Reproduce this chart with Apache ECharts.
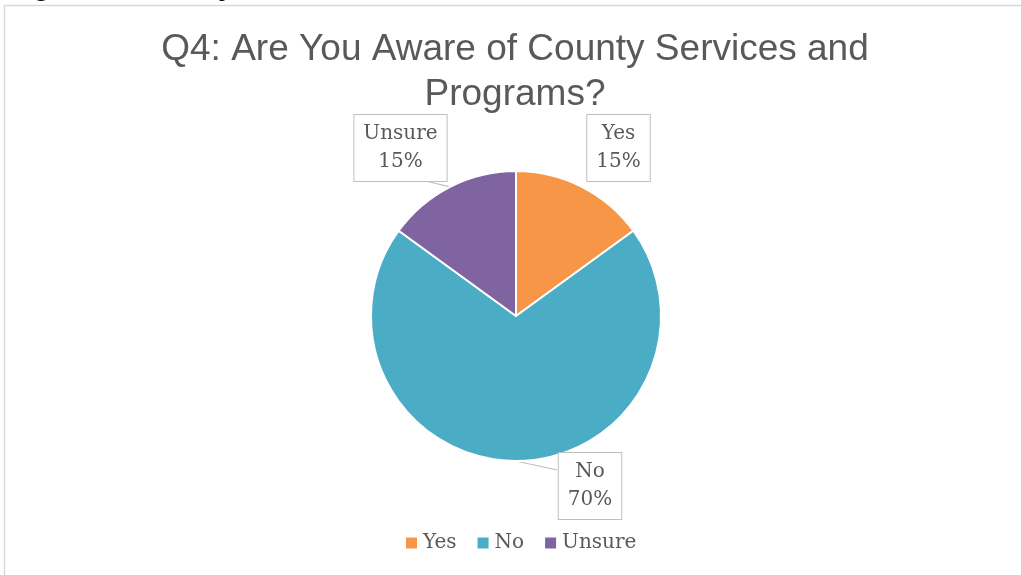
<!DOCTYPE html>
<html>
<head>
<meta charset="utf-8">
<script src="https://cdn.jsdelivr.net/npm/echarts@6/dist/echarts.min.js"></script>
<style>
html,body{margin:0;padding:0;background:#fff;}
#chart{width:1021px;height:575px;}
</style>
</head>
<body>
<div id="chart"></div>
<script>
// ---- data ----
var categories = ['Yes', 'No', 'Unsure'];
var values = [15, 70, 15];
var colors = ['#F79646', '#4BACC6', '#8064A2'];
var titleText = 'Q4: Are You Aware of County Services and\nPrograms?';
var headingText = 'Figure 4: Survey';

// ---- layout (label box centres and callout attach offsets, px) ----
var labelCentres = [[618.5, 148], [590, 486], [400.5, 148]];
var calloutAttach = [null, [-33, -16], [25, 33]];

var chart = echarts.init(document.getElementById('chart'), null, {renderer: 'canvas'});
var serif = '"DejaVu Serif", "Liberation Serif", serif';

var option = {
  animation: false,
  backgroundColor: '#ffffff',
  color: colors,
  title: {
    text: titleText,
    left: 510,
    top: 22,
    textAlign: 'center',
    textStyle: {
      fontFamily: '"Liberation Sans", Arial, sans-serif',
      fontSize: 37,
      fontWeight: 'normal',
      color: '#595959',
      lineHeight: 45
    }
  },
  graphic: [
    {
      type: 'rect', silent: true, z: -1,
      shape: {x: 4.5, y: 5.5, width: 1040, height: 600},
      style: {fill: 'none', stroke: '#D9D9D9', lineWidth: 1.5}
    },
    {
      type: 'text', silent: true,
      style: {
        x: 7, y: -13, text: headingText,
        font: 'bold 29px "Liberation Sans", Arial, sans-serif',
        fill: '#000000', verticalAlign: 'middle'
      }
    }
  ],
  legend: {
    data: categories,
    left: 399,
    top: 528,
    icon: 'rect',
    itemWidth: 13,
    itemHeight: 13,
    itemGap: 19,
    textStyle: {fontFamily: serif, fontSize: 20, color: '#595959'}
  },
  series: [{
    type: 'pie',
    center: [516, 316],
    radius: [0, 145],
    startAngle: 90,
    clockwise: true,
    avoidLabelOverlap: false,
    itemStyle: {borderColor: '#ffffff', borderWidth: 2},
    emphasis: {disabled: true},
    label: {
      show: true,
      position: 'outside',
      formatter: '{b}\n{d}%',
      fontFamily: serif,
      fontSize: 20,
      lineHeight: 28,
      color: '#595959',
      align: 'center',
      backgroundColor: '#ffffff',
      borderColor: '#BFBFBF',
      borderWidth: 1,
      padding: [9, 9, 1, 9]
    },
    labelLine: {show: true, length: 10, length2: 10, lineStyle: {color: '#BFBFBF', width: 1.2}},
    labelLayout: function (p) {
      var c = labelCentres[p.dataIndex];
      var out = {x: c[0], y: c[1], align: 'center', verticalAlign: 'middle'};
      var a = calloutAttach[p.dataIndex];
      if (p.labelLinePoints && p.labelLinePoints[0]) {
        var s = p.labelLinePoints[0];
        if (a) {
          var e = [c[0] + a[0], c[1] + a[1]];
          out.labelLinePoints = [s, e, e];
        } else {
          out.labelLinePoints = [s, s, s];
        }
      }
      return out;
    },
    data: categories.map(function (n, i) { return {name: n, value: values[i]}; })
  }]
};
chart.setOption(option);
</script>
</body>
</html>
